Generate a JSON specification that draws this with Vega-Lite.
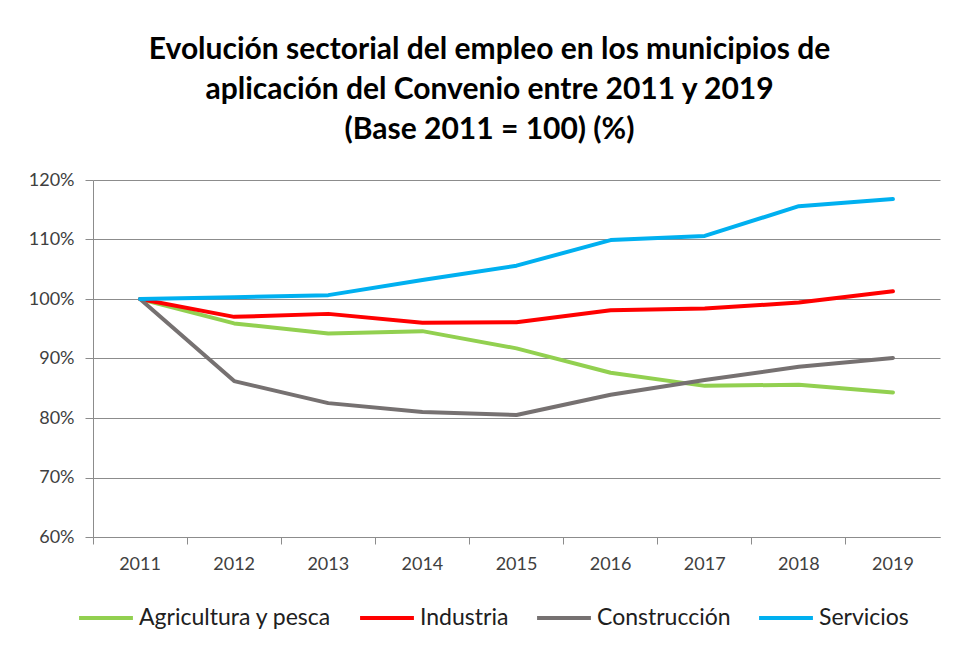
{
  "$schema": "https://vega.github.io/schema/vega-lite/v6.json",
  "width": 847,
  "height": 357,
  "autosize": {"type": "none"},
  "padding": {"left": 93, "top": 180, "right": 16, "bottom": 116},
  "background": "white",
  "title": {
    "text": ["Evolución sectorial del empleo en los municipios de", "aplicación del Convenio entre 2011 y 2019", "(Base 2011 = 100) (%)"],
    "font": "Lato",
    "fontSize": 30,
    "fontWeight": "bold",
    "color": "#000000",
    "lineHeight": 40,
    "anchor": "middle",
    "dx": -27,
    "offset": 26
  },
  "data": {
    "values": [
      {"year": "2011", "sector": "Agricultura y pesca", "value": 1.0},
      {"year": "2012", "sector": "Agricultura y pesca", "value": 0.959},
      {"year": "2013", "sector": "Agricultura y pesca", "value": 0.942},
      {"year": "2014", "sector": "Agricultura y pesca", "value": 0.946},
      {"year": "2015", "sector": "Agricultura y pesca", "value": 0.917},
      {"year": "2016", "sector": "Agricultura y pesca", "value": 0.876},
      {"year": "2017", "sector": "Agricultura y pesca", "value": 0.854},
      {"year": "2018", "sector": "Agricultura y pesca", "value": 0.856},
      {"year": "2019", "sector": "Agricultura y pesca", "value": 0.843},
      {"year": "2011", "sector": "Industria", "value": 1.0},
      {"year": "2012", "sector": "Industria", "value": 0.970},
      {"year": "2013", "sector": "Industria", "value": 0.975},
      {"year": "2014", "sector": "Industria", "value": 0.960},
      {"year": "2015", "sector": "Industria", "value": 0.961},
      {"year": "2016", "sector": "Industria", "value": 0.981},
      {"year": "2017", "sector": "Industria", "value": 0.984},
      {"year": "2018", "sector": "Industria", "value": 0.994},
      {"year": "2019", "sector": "Industria", "value": 1.013},
      {"year": "2011", "sector": "Construcción", "value": 1.0},
      {"year": "2012", "sector": "Construcción", "value": 0.862},
      {"year": "2013", "sector": "Construcción", "value": 0.825},
      {"year": "2014", "sector": "Construcción", "value": 0.810},
      {"year": "2015", "sector": "Construcción", "value": 0.805},
      {"year": "2016", "sector": "Construcción", "value": 0.839},
      {"year": "2017", "sector": "Construcción", "value": 0.864},
      {"year": "2018", "sector": "Construcción", "value": 0.886},
      {"year": "2019", "sector": "Construcción", "value": 0.901},
      {"year": "2011", "sector": "Servicios", "value": 1.0},
      {"year": "2012", "sector": "Servicios", "value": 1.003},
      {"year": "2013", "sector": "Servicios", "value": 1.0065},
      {"year": "2014", "sector": "Servicios", "value": 1.032},
      {"year": "2015", "sector": "Servicios", "value": 1.056},
      {"year": "2016", "sector": "Servicios", "value": 1.099},
      {"year": "2017", "sector": "Servicios", "value": 1.106},
      {"year": "2018", "sector": "Servicios", "value": 1.156},
      {"year": "2019", "sector": "Servicios", "value": 1.168}
    ]
  },
  "mark": {"type": "line", "strokeWidth": 4, "strokeCap": "round", "strokeJoin": "round"},
  "encoding": {
    "x": {
      "field": "year",
      "type": "ordinal",
      "bandPosition": 0.5,
      "scale": {"type": "band", "paddingInner": 0, "paddingOuter": 0},
      "axis": {
        "title": null,
        "labelAngle": 0,
        "bandPosition": 0,
        "grid": false,
        "domainColor": "#8c8c8c",
        "tickColor": "#8c8c8c",
        "tickSize": 7,
        "labelFont": "Lato",
        "labelFontSize": 18,
        "labelColor": "#404040",
        "labelPadding": 11
      }
    },
    "y": {
      "field": "value",
      "type": "quantitative",
      "scale": {"domain": [0.6, 1.2], "nice": false, "zero": false},
      "axis": {
        "title": null,
        "format": ".0%",
        "values": [0.6, 0.7, 0.8, 0.9, 1.0, 1.1, 1.2],
        "grid": true,
        "gridColor": "#8c8c8c",
        "domainColor": "#8c8c8c",
        "tickColor": "#8c8c8c",
        "tickSize": 8,
        "labelFont": "Lato",
        "labelFontSize": 18,
        "labelColor": "#404040",
        "labelPadding": 11
      }
    },
    "color": {
      "field": "sector",
      "type": "nominal",
      "sort": null,
      "scale": {
        "domain": ["Agricultura y pesca", "Industria", "Construcción", "Servicios"],
        "range": ["#92d050", "#ff0000", "#767171", "#00b0f0"]
      },
      "legend": {
        "title": null,
        "orient": "none",
        "legendX": -16,
        "legendY": 409,
        "direction": "horizontal",
        "symbolType": "stroke",
        "symbolSize": 2900,
        "symbolStrokeWidth": 4,
        "labelFont": "Lato",
        "labelFontSize": 23,
        "labelColor": "#202020",
        "labelOffset": 4,
        "columnPadding": 20,
        "labelLimit": 400
      }
    }
  },
  "config": {
    "view": {"stroke": null}
  }
}
